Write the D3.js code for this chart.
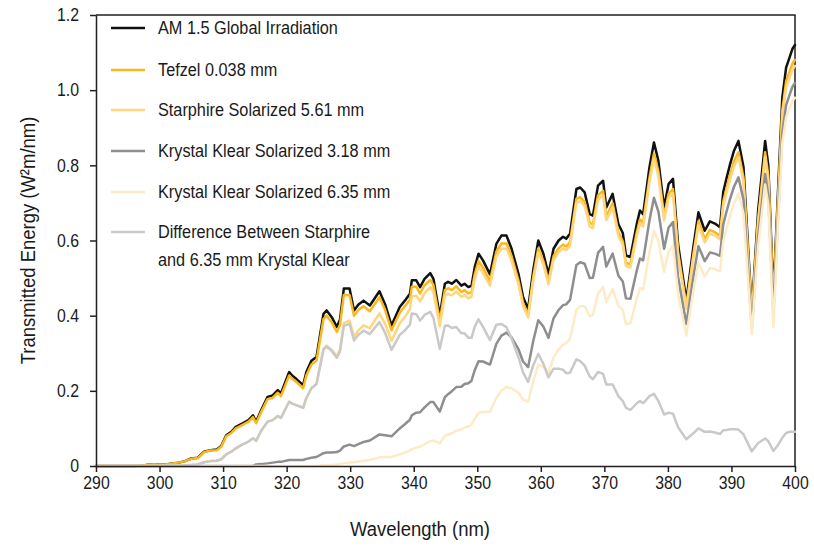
<!DOCTYPE html>
<html>
<head>
<meta charset="utf-8">
<script src="https://cdn.jsdelivr.net/npm/d3@7"></script>
<style>
  html, body { margin: 0; padding: 0; background: #ffffff; }
  svg { display: block; }
  text { font-family: "Liberation Sans", Arial, sans-serif; fill: #1a1a1a; }
</style>
</head>
<body>
<div id="chart"></div>
<script>
// ---- Data ----
const wavelengths = [
  290,292,294,296,297,298,299,300,301,302,
  303,304,305,306,307,308,309,309.7,310.5,311.3,
  312,313,314,314.7,315.2,316,317,317.8,318.6,319.1,
  320.4,320.9,321.5,322.6,323.1,323.9,324.7,325.8,326.3,327.1,
  327.9,328.4,329.0,329.9,330.6,331.3,332.1,333.1,334.6,335.5,
  336.5,337.8,338.6,339.4,339.7,340.4,341.0,341.7,342.6,343.1,
  344.1,344.9,345.4,346.0,346.7,347.5,348.0,348.6,349.1,349.6,
  350.2,350.9,352.0,353.0,353.8,354.6,355.4,356.5,357.2,358.0,
  358.8,359.6,360.4,361.2,362.0,362.8,363.5,364.0,364.6,365.6,
  366.2,366.9,367.7,368.2,369.0,369.8,370.3,371.3,372.2,372.9,
  373.4,374.1,375.1,375.6,376.1,377.1,377.8,378.5,379.4,380.1,
  380.8,381.6,382.9,384.0,384.8,385.8,386.6,387.4,388.2,388.7,
  389.2,389.8,390.4,391.1,391.9,393.2,394.2,395.3,395.8,396.6,
  397.3,398.0,398.6,399.2,399.6,400
];

const am15 = [
  0,0,0,0,0.001,0.003,0.003,0.004,0.004,0.007,
  0.009,0.013,0.020,0.022,0.038,0.042,0.044,0.053,0.082,0.091,
  0.104,0.113,0.122,0.135,0.118,0.149,0.184,0.188,0.202,0.193,
  0.250,0.240,0.232,0.215,0.250,0.280,0.290,0.405,0.414,0.396,
  0.370,0.390,0.472,0.472,0.414,0.430,0.440,0.427,0.465,0.430,
  0.374,0.423,0.440,0.458,0.494,0.494,0.476,0.498,0.513,0.498,
  0.400,0.485,0.490,0.485,0.495,0.480,0.485,0.476,0.480,0.529,
  0.565,0.547,0.510,0.591,0.613,0.613,0.578,0.510,0.450,0.418,
  0.520,0.600,0.565,0.510,0.578,0.600,0.610,0.605,0.618,0.737,
  0.741,0.728,0.670,0.666,0.746,0.759,0.688,0.724,0.644,0.620,
  0.560,0.556,0.644,0.680,0.670,0.795,0.861,0.812,0.688,0.750,
  0.764,0.590,0.440,0.582,0.675,0.626,0.651,0.645,0.635,0.728,
  0.764,0.804,0.839,0.865,0.795,0.410,0.680,0.865,0.800,0.450,
  0.720,0.980,1.060,1.090,1.110,1.120
];

const tefzel = [
  0,0,0,0,0.001,0.003,0.003,0.004,0.004,0.007,
  0.009,0.013,0.019,0.021,0.037,0.041,0.042,0.051,0.079,0.088,
  0.100,0.109,0.118,0.130,0.114,0.144,0.178,0.181,0.195,0.186,
  0.241,0.232,0.224,0.207,0.241,0.270,0.280,0.391,0.400,0.382,
  0.357,0.376,0.455,0.455,0.400,0.415,0.425,0.412,0.449,0.415,
  0.361,0.408,0.425,0.442,0.477,0.477,0.459,0.481,0.495,0.481,
  0.386,0.468,0.473,0.468,0.478,0.463,0.468,0.459,0.463,0.510,
  0.545,0.528,0.492,0.570,0.592,0.592,0.558,0.492,0.434,0.403,
  0.502,0.579,0.545,0.492,0.558,0.579,0.589,0.584,0.596,0.711,
  0.715,0.703,0.647,0.643,0.720,0.732,0.664,0.699,0.621,0.598,
  0.540,0.537,0.621,0.656,0.647,0.767,0.831,0.784,0.664,0.724,
  0.737,0.569,0.425,0.562,0.651,0.604,0.628,0.622,0.613,0.703,
  0.737,0.776,0.810,0.835,0.767,0.396,0.656,0.835,0.772,0.434,
  0.695,0.946,1.023,1.052,1.071,1.081
];

const starphire = [
  0,0,0,0,0,0,0,0,0.001,0.001,
  0.001,0.002,0.003,0.004,0.010,0.013,0.014,0.018,0.031,0.038,
  0.047,0.057,0.065,0.074,0.067,0.094,0.118,0.122,0.133,0.128,
  0.171,0.166,0.162,0.155,0.181,0.207,0.218,0.312,0.320,0.309,
  0.292,0.310,0.380,0.387,0.344,0.361,0.374,0.367,0.406,0.378,
  0.333,0.380,0.396,0.417,0.451,0.453,0.438,0.460,0.476,0.462,
  0.372,0.453,0.458,0.454,0.464,0.450,0.455,0.446,0.451,0.497,
  0.531,0.514,0.480,0.557,0.578,0.579,0.546,0.482,0.426,0.395,
  0.492,0.568,0.536,0.483,0.548,0.569,0.579,0.574,0.587,0.700,
  0.704,0.692,0.637,0.633,0.709,0.721,0.654,0.688,0.612,0.589,
  0.532,0.528,0.612,0.646,0.637,0.755,0.818,0.771,0.654,0.713,
  0.726,0.561,0.418,0.553,0.641,0.595,0.618,0.613,0.603,0.692,
  0.726,0.764,0.797,0.822,0.755,0.390,0.646,0.822,0.760,0.410,
  0.684,0.931,1.007,1.036,1.055,1.064
];

const krystal318 = [
  0,0,0,0,0,0,0,0,0,0,
  0,0,0,0,0,0,0,0,0,0,
  0,0,0,0,0.004,0.005,0.007,0.009,0.011,0.011,
  0.016,0.016,0.016,0.016,0.019,0.022,0.024,0.034,0.036,0.036,
  0.037,0.041,0.052,0.057,0.053,0.058,0.064,0.068,0.084,0.082,
  0.079,0.100,0.111,0.123,0.135,0.142,0.143,0.156,0.170,0.170,
  0.145,0.183,0.191,0.199,0.210,0.211,0.218,0.220,0.227,0.255,
  0.279,0.278,0.270,0.325,0.347,0.355,0.342,0.310,0.278,0.263,
  0.332,0.388,0.371,0.341,0.393,0.415,0.428,0.430,0.442,0.535,
  0.542,0.538,0.500,0.501,0.567,0.583,0.531,0.565,0.507,0.491,
  0.446,0.445,0.520,0.552,0.547,0.654,0.714,0.677,0.578,0.634,
  0.649,0.503,0.378,0.503,0.585,0.545,0.568,0.565,0.559,0.642,
  0.675,0.712,0.743,0.768,0.708,0.366,0.609,0.777,0.719,0.405,
  0.649,0.887,0.960,0.990,1.009,1.019
];

const krystal635 = [
  0,0,0,0,0,0,0,0,0,0,
  0,0,0,0,0,0,0,0,0,0,
  0,0,0,0,0,0,0,0,0,0,
  0,0,0,0,0,0,0,0.002,0.002,0.003,
  0.004,0.005,0.007,0.009,0.010,0.012,0.014,0.016,0.023,0.024,
  0.024,0.031,0.035,0.041,0.045,0.049,0.051,0.058,0.066,0.068,
  0.060,0.080,0.084,0.087,0.094,0.097,0.102,0.105,0.110,0.126,
  0.141,0.144,0.145,0.181,0.200,0.210,0.207,0.194,0.177,0.171,
  0.224,0.270,0.264,0.247,0.289,0.310,0.323,0.327,0.339,0.416,
  0.425,0.425,0.399,0.402,0.459,0.476,0.437,0.471,0.426,0.416,
  0.377,0.379,0.445,0.473,0.470,0.569,0.626,0.598,0.517,0.571,
  0.587,0.458,0.347,0.466,0.541,0.504,0.526,0.524,0.518,0.597,
  0.630,0.666,0.699,0.725,0.671,0.351,0.585,0.749,0.694,0.370,
  0.629,0.858,0.928,0.954,0.971,0.980
];

const difference = [
  0,0,0,0,0,0,0,0,0.001,0.001,
  0.001,0.002,0.003,0.004,0.010,0.013,0.014,0.018,0.031,0.038,
  0.047,0.057,0.065,0.074,0.067,0.094,0.118,0.122,0.133,0.128,
  0.171,0.166,0.162,0.155,0.181,0.207,0.218,0.310,0.318,0.306,
  0.288,0.305,0.373,0.378,0.334,0.349,0.360,0.351,0.383,0.354,
  0.309,0.349,0.361,0.376,0.406,0.404,0.387,0.402,0.410,0.394,
  0.312,0.373,0.374,0.367,0.370,0.353,0.353,0.341,0.341,0.371,
  0.390,0.370,0.335,0.376,0.378,0.369,0.339,0.288,0.249,0.224,
  0.268,0.298,0.272,0.236,0.259,0.259,0.256,0.247,0.248,0.284,
  0.279,0.267,0.238,0.231,0.250,0.245,0.217,0.217,0.186,0.173,
  0.155,0.149,0.167,0.173,0.167,0.186,0.192,0.173,0.137,0.142,
  0.139,0.103,0.071,0.087,0.100,0.091,0.092,0.089,0.085,0.095,
  0.096,0.098,0.098,0.097,0.084,0.039,0.061,0.073,0.066,0.040,
  0.055,0.075,0.088,0.091,0.091,0.091
];

const seriesNames = [
  "AM 1.5 Global Irradiation",
  "Tefzel 0.038 mm",
  "Starphire Solarized 5.61 mm",
  "Krystal Klear Solarized 3.18 mm",
  "Krystal Klear Solarized 6.35 mm",
  "Difference Between Starphire|and 6.35 mm Krystal Klear"
];
const seriesValues = [am15, tefzel, starphire, krystal318, krystal635, difference];
const seriesColors = ["#111111", "#FDB71A", "#FDD67E", "#8E8E90", "#FDEBC6", "#C9C9C9"];

const xTicks = [290,300,310,320,330,340,350,360,370,380,390,400];
const yTicks = [0,0.2,0.4,0.6,0.8,1.0,1.2];
const xTitle = "Wavelength (nm)";
const yTitle = "Transmitted Energy (W\u00B2m/nm)";

// ---- Drawing ----
const W = 814, H = 546;
const plot = { left: 96, right: 795, top: 15, bottom: 466 };
const SX = 0.88; // horizontal condensing for the condensed typeface look

const svg = d3.select("#chart").append("svg")
  .attr("width", W).attr("height", H)
  .attr("viewBox", `0 0 ${W} ${H}`);

const x = d3.scaleLinear().domain([290, 400]).range([plot.left, plot.right]);
const y = d3.scaleLinear().domain([0, 1.2]).range([plot.bottom, plot.top]);

// frame (top and right)
svg.append("path")
  .attr("d", `M${plot.left},${plot.top}H${plot.right}V${plot.bottom}`)
  .attr("fill", "none").attr("stroke", "#231f20").attr("stroke-width", 1.5);

// series lines
const line = d3.line()
  .x((d, i) => x(wavelengths[i]))
  .y(d => y(d));

const gLines = svg.append("g");
seriesValues.forEach((vals, k) => {
  gLines.append("path")
    .datum(vals)
    .attr("d", line)
    .attr("fill", "none")
    .attr("stroke", seriesColors[k])
    .attr("stroke-width", 2.5)
    .attr("stroke-linejoin", "round")
    .attr("stroke-linecap", "round");
});

// axes
const xAxis = d3.axisBottom(x).tickValues(xTicks).tickSize(6).tickSizeOuter(0)
  .tickPadding(4).tickFormat(d3.format("d"));
const gx = svg.append("g").attr("transform", `translate(0,${plot.bottom})`).call(xAxis);

const yAxis = d3.axisLeft(y).tickValues(yTicks).tickSize(6).tickSizeOuter(0)
  .tickFormat(d => d === 0 ? "0" : d3.format(".1f")(d));
const gy = svg.append("g").attr("transform", `translate(${plot.left},0)`).call(yAxis);

[gx, gy].forEach(g => {
  g.select(".domain").attr("stroke", "#231f20").attr("stroke-width", 1.5);
  g.selectAll(".tick line").attr("stroke", "#231f20").attr("stroke-width", 1.5);
  g.selectAll(".tick text")
    .attr("fill", "#1a1a1a")
    .style("font-family", '"Liberation Sans", Arial, sans-serif')
    .style("font-size", "18px");
});
gx.selectAll(".tick text").attr("transform", `scale(${SX},1)`);
gy.selectAll(".tick text")
  .attr("x", -17 / SX)
  .attr("transform", `scale(${SX},1)`);

// axis titles
svg.append("g")
  .attr("transform", `translate(420,529) scale(${SX},1)`)
  .append("text")
  .attr("text-anchor", "middle")
  .attr("dy", "0.35em")
  .style("font-size", "21px")
  .text(xTitle);

svg.append("g")
  .attr("transform", `translate(28,${(plot.top + plot.bottom) / 2}) rotate(-90) scale(${SX},1)`)
  .append("text")
  .attr("text-anchor", "middle")
  .attr("dy", "0.35em")
  .style("font-size", "21px")
  .text(yTitle);

// legend
const legendY = [28, 70, 110, 151, 192, 232];
const gLeg = svg.append("g");
seriesNames.forEach((name, k) => {
  const ly = legendY[k];
  gLeg.append("line")
    .attr("x1", 111).attr("x2", 145)
    .attr("y1", ly).attr("y2", ly)
    .attr("stroke", seriesColors[k]).attr("stroke-width", 2.5);
  const parts = name.split("|");
  const tg = gLeg.append("g").attr("transform", `translate(158,${ly}) scale(${SX},1)`);
  parts.forEach((p, j) => {
    tg.append("text")
      .attr("x", 0).attr("y", j * 28)
      .attr("dy", "0.35em")
      .style("font-size", "18.5px")
      .text(p);
  });
});
</script>
</body>
</html>
